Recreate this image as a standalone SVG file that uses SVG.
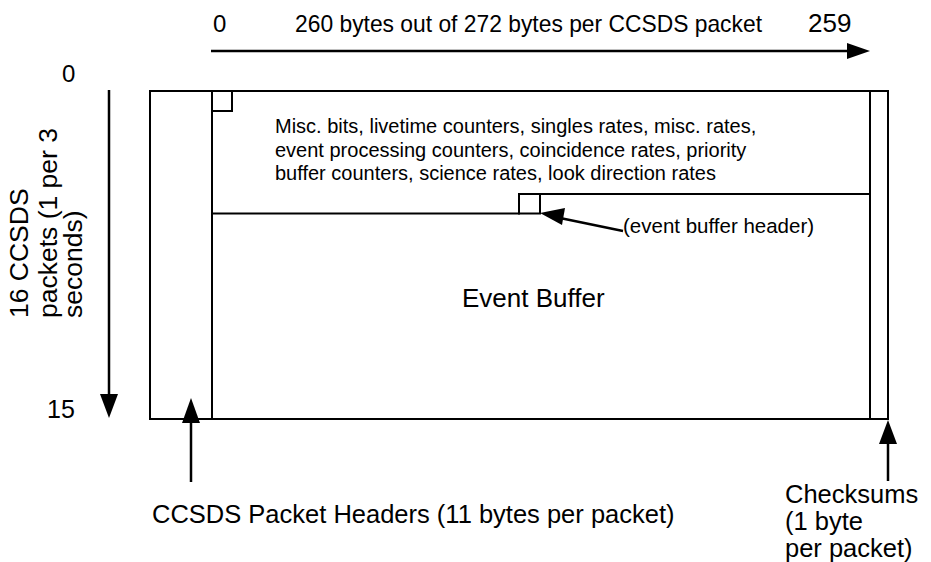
<svg xmlns="http://www.w3.org/2000/svg" width="931" height="562" viewBox="0 0 931 562">
<defs>
<style>
text{font-family:"Liberation Sans",Arial,Helvetica,sans-serif;fill:#000}
.ln{stroke:#000;stroke-width:2;fill:none}
.ar{stroke:#000;stroke-width:2.5;fill:none}
.hd{fill:#000;stroke:none}
</style>
</defs>
<rect width="931" height="562" fill="#fff"/>
<g id="top-axis">
<text x="213" y="32" font-size="24">0</text>
<text x="295" y="32" font-size="24" textLength="467" lengthAdjust="spacingAndGlyphs">260 bytes out of 272 bytes per CCSDS packet</text>
<text x="808" y="32" font-size="26">259</text>
</g>
<g id="left-axis">
<text x="62" y="82" font-size="24">0</text>
<text x="47" y="418" font-size="25">15</text>
<g transform="translate(0,318) rotate(-90)" font-size="26.5">
<text x="0" y="28">16 CCSDS</text>
<text x="0" y="57">packets (1 per 3</text>
<text x="0" y="82">seconds)</text>
</g>
</g>
<g id="frame">
<rect class="ln" x="150" y="91" width="738" height="328"/>
<line class="ln" x1="212" y1="91" x2="212" y2="419"/>
<line class="ln" x1="870" y1="91" x2="870" y2="419"/>
<rect class="ln" x="212" y="91" width="20" height="20"/>
<polyline class="ln" points="212,213.5 519,213.5 519,194 870,194"/>
<rect class="ln" x="519" y="194" width="21" height="19.5"/>
</g>
<g id="housekeeping">
<text x="275" y="133" font-size="20">Misc. bits, livetime counters, singles rates, misc. rates,</text>
<text x="275" y="157" font-size="20">event processing counters, coincidence rates, priority</text>
<text x="275" y="180" font-size="20">buffer counters, science rates, look direction rates</text>
</g>
<g id="event-buffer">
<text x="462" y="307" font-size="26">Event Buffer</text>
</g>
<g id="header-label">
<text x="623" y="233" font-size="20.5">(event buffer header)</text>
</g>
<g id="ccsds-label">
<text x="152" y="523" font-size="25.5">CCSDS Packet Headers (11 bytes per packet)</text>
</g>
<g id="checksum-label" font-size="25.5">
<text x="785" y="503">Checksums</text>
<text x="785" y="530">(1 byte</text>
<text x="785" y="557">per packet)</text>
</g>
<g id="connectors">
<line class="ar" x1="211" y1="51" x2="850" y2="51"/>
<polygon class="hd" points="870,51 847,43 847,59"/>
<line class="ar" x1="109" y1="90" x2="109" y2="397"/>
<polygon class="hd" points="109,418 100,394 118,394"/>
<line class="ar" x1="191" y1="482" x2="191" y2="418"/>
<polygon class="hd" points="191,398 182,423 200,423"/>
<line class="ar" x1="888" y1="481" x2="888" y2="440"/>
<polygon class="hd" points="888,420 879,444 897,444"/>
<line class="ar" x1="623" y1="231" x2="560" y2="218"/>
<polygon class="hd" points="540,213 565,208 562,225"/>
</g>
</svg>
